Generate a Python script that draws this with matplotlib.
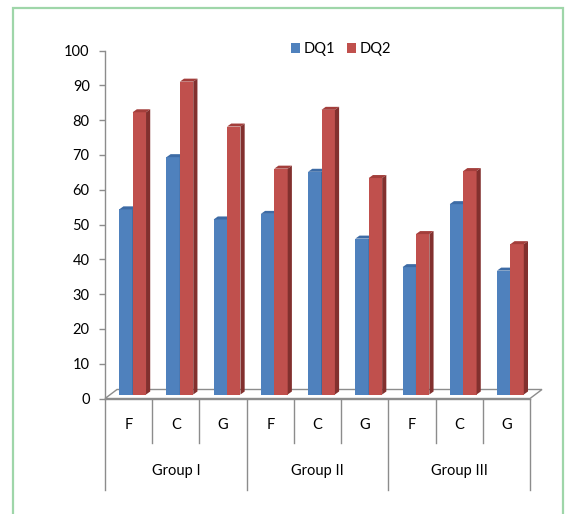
import matplotlib
matplotlib.use("Agg")
import matplotlib.pyplot as plt
from matplotlib.patches import Polygon, Rectangle, Patch

# Data
groups = ["Group I", "Group II", "Group III"]
subcats = ["F", "C", "G"]
dq1 = [53.2, 68.2, 50.3, 51.9, 64.0, 44.8, 36.6, 54.7, 35.6]
dq2 = [81.1, 89.9, 77.0, 64.9, 81.8, 62.2, 46.1, 64.2, 43.2]
yticks = list(range(0, 101, 10))

plt.rcParams['font.family'] = ['Lato', 'DejaVu Sans']

W, H = 573, 514
fig = plt.figure(figsize=(W / 100, H / 100), dpi=100)
ax = fig.add_axes([105 / W, 115.5 / H, 425 / W, 348 / H])

n = len(dq1)
ax.set_xlim(-0.5, n - 0.5)
ax.set_ylim(0, 100)

# pixel -> data unit conversions for the 3-D look
cat_px = 425 / n
unit_px = 348 / 100
sx, sy = 4 / cat_px, 4 / unit_px          # bars sit a bit back on the floor
ddx, ddy = 4.2 / cat_px, 3 / unit_px      # bar depth
fdx, fdy = 12 / cat_px, 9 / unit_px       # floor depth

line_c = "#8c8c8c"
fs = 10.5

# floor
floor = Polygon([(-0.5, 0), (n - 0.5, 0), (n - 0.5 + fdx, fdy), (-0.5 + fdx, fdy)],
                closed=True, facecolor="white", edgecolor=line_c, lw=1.0,
                clip_on=False, zorder=1)
ax.add_patch(floor)

w = 0.284
series = [
    (dq1, -w, "#4f81bd", "#3d6ba5", "#2f5482"),
    (dq2, 0.0, "#c0504d", "#a33e3b", "#82302e"),
]

def draw_bar(x0, v, front, top, side):
    b = sy
    t = sy + v
    x1 = x0 + w
    ax.add_patch(Rectangle((x0, b), w, v, facecolor=front, edgecolor="none",
                           clip_on=False, zorder=3))
    ax.add_patch(Polygon([(x0, t), (x1, t), (x1 + ddx, t + ddy), (x0 + ddx, t + ddy)],
                         closed=True, facecolor=top, edgecolor="none",
                         clip_on=False, zorder=3))
    ax.add_patch(Polygon([(x1, b), (x1, t), (x1 + ddx, t + ddy), (x1 + ddx, b + ddy)],
                         closed=True, facecolor=side, edgecolor="none",
                         clip_on=False, zorder=3))

for i in range(n):
    for vals, off, front, top, side in series:
        draw_bar(i + sx + off, vals[i], front, top, side)

# axes styling
for s in ["top", "right"]:
    ax.spines[s].set_visible(False)
ax.spines["left"].set_color(line_c)
ax.spines["bottom"].set_color(line_c)
ax.spines["left"].set_linewidth(1.0)
ax.spines["bottom"].set_linewidth(1.0)
ax.set_yticks(yticks)
ax.tick_params(axis="y", direction="out", length=4, width=1.0, color=line_c,
               pad=7, labelsize=fs, labelcolor="black")
ax.set_xticks([])

# category dividers and labels below the floor
xt = ax.get_xaxis_transform()
short_y = -44.5 / 348
long_y = -91.5 / 348
for k in range(n + 1):
    low = long_y if k % 3 == 0 else short_y
    ax.plot([k - 0.5, k - 0.5], [0, low], color=line_c, lw=1.0,
            transform=xt, clip_on=False)
for i in range(n):
    ax.text(i, -26.5 / 348, subcats[i % 3], transform=xt, ha="center",
            va="center", fontsize=fs)
for g, name in enumerate(groups):
    ax.text(g * 3 + 1, -72.2 / 348, name, transform=xt, ha="center",
            va="center", fontsize=fs)

# legend
handles = [Patch(facecolor="#4f81bd", label="DQ1"),
           Patch(facecolor="#c0504d", label="DQ2")]
fig.legend(handles=handles, loc="center", bbox_to_anchor=(341 / W, 1 - 49 / H),
           ncol=2, frameon=False, fontsize=fs, handlelength=0.62,
           handleheight=0.62, handletextpad=0.2, columnspacing=0.85)

# outer green frame
fig.patches.append(Rectangle((13 / W, -0.05), 550 / W, 1.05 - 8 / H,
                             transform=fig.transFigure, fill=False,
                             edgecolor="#9fd6a9", lw=1.6))

fig.savefig("out.png", dpi=100)
